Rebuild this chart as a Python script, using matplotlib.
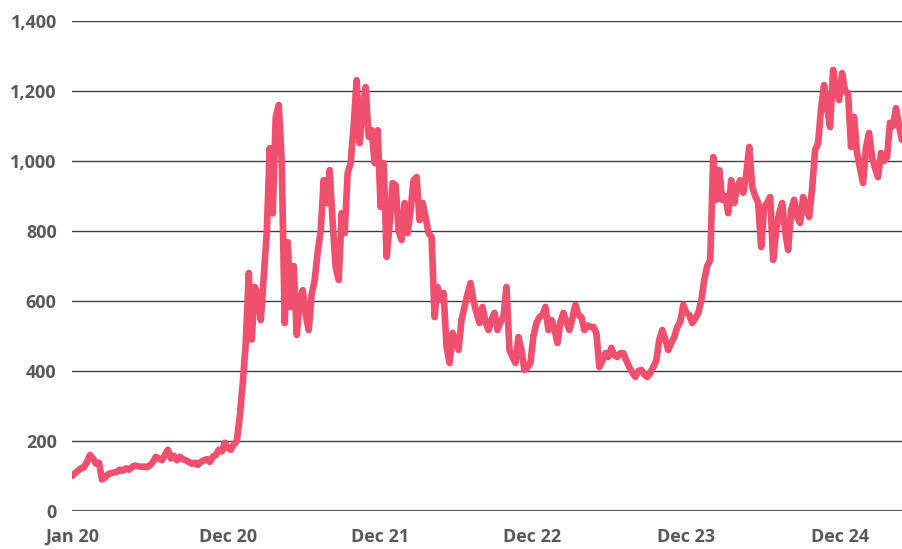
import matplotlib
matplotlib.use("Agg")
import matplotlib.pyplot as plt

values = [
    100, 108, 115, 122, 125, 140, 160, 150, 135, 138,
    90, 95, 105, 108, 110, 112, 118, 115, 122, 118,
    125, 130, 128, 126, 127, 125, 130, 140, 155, 150,
    145, 160, 175, 150, 158, 145, 155, 148, 145, 140,
    135, 138, 132, 140, 145, 148, 140, 155, 160, 175,
    170, 195, 180, 175, 190, 200, 270, 366, 480, 680,
    490, 640, 620, 545, 670, 795, 1037, 850, 1125, 1160,
    995, 537, 768, 583, 700, 503, 600, 631, 560, 517,
    620, 660, 740, 800, 945, 880, 974, 823, 697, 660,
    851, 794, 966, 994, 1100, 1231, 1051, 1150, 1211, 1069,
    1088, 994, 1088, 869, 994, 726, 820, 937, 931, 800,
    774, 880, 794, 860, 945, 954, 831, 880, 840, 794,
    783, 554, 640, 603, 623, 469, 423, 509, 480, 460,
    546, 583, 620, 651, 600, 566, 537, 583, 540, 517,
    546, 566, 517, 540, 554, 640, 460, 440, 423, 497,
    460, 403, 410, 423, 500, 537, 554, 560, 583, 517,
    546, 520, 480, 540, 566, 540, 517, 550, 589, 560,
    554, 517, 530, 526, 526, 509, 411, 430, 451, 440,
    466, 445, 440, 451, 451, 430, 411, 395, 383, 400,
    403, 390, 383, 395, 411, 430, 489, 517, 490, 460,
    480, 497, 526, 540, 589, 566, 560, 537, 550, 566,
    600, 660, 700, 717, 1011, 889, 974, 889, 900, 851,
    945, 880, 926, 945, 909, 960, 1040, 926, 900, 880,
    754, 869, 880, 897, 717, 800, 851, 880, 800, 746,
    860, 889, 840, 823, 897, 870, 840, 920, 1031, 1051,
    1150, 1217, 1150, 1097, 1260, 1200, 1174, 1251, 1200, 1194,
    1040, 1126, 1023, 980, 937, 1040, 1080, 1011, 980, 954,
    1023, 1000, 1011, 1109, 1100, 1151, 1100, 1060,
]
weeks = list(range(len(values)))

tick_weeks = [0, 52, 102.7, 153.7, 205, 256.4]
tick_labels = ["Jan 20", "Dec 20", "Dec 21", "Dec 22", "Dec 23", "Dec 24"]
y_ticks = [0, 200, 400, 600, 800, 1000, 1200, 1400]

fig = plt.figure(figsize=(9.02, 5.49), dpi=100)
ax = fig.add_axes([72/902, 1-511/549, 830/902, 490/549])

for yv in y_ticks[1:]:
    ax.axhline(yv, color="#3f3f3f", lw=1.0, zorder=1)
ax.axhline(0, color="#595959", lw=1.6, zorder=1)

ax.plot(weeks, values, color="#F0506E", lw=4.8, solid_joinstyle="round",
        solid_capstyle="round", zorder=3)

ax.set_xlim(0, len(values) - 1)
ax.set_ylim(0, 1400)
ax.set_yticks(y_ticks)
ax.set_yticklabels([f"{v:,}" for v in y_ticks])
ax.set_xticks(tick_weeks)
ax.set_xticklabels(tick_labels)
for s in ax.spines.values():
    s.set_visible(False)
ax.tick_params(length=0, colors="#595959", labelsize=13)
ax.tick_params(axis="y", pad=11)
ax.tick_params(axis="x", pad=12)
for lab in ax.get_xticklabels() + ax.get_yticklabels():
    lab.set_fontfamily("Open Sans")
    lab.set_fontweight("bold")
    lab.set_color("#595959")

fig.savefig("out.png", dpi=100)
